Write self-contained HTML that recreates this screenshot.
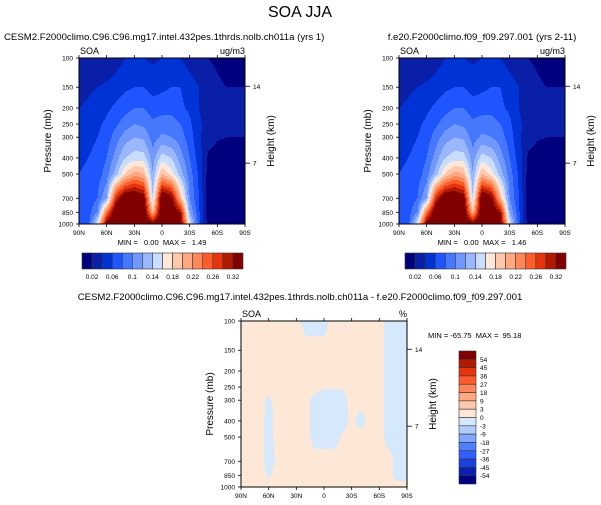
<!DOCTYPE html>
<html><head><meta charset="utf-8">
<style>
html,body{margin:0;padding:0;background:#fff;}
svg{display:block;font-family:"Liberation Sans",Arial,sans-serif;}
.pre{white-space:pre;}
</style></head>
<body>
<svg id="chart" width="601" height="505" viewBox="0 0 601 505" xmlns="http://www.w3.org/2000/svg">
<text x="300" y="17" font-size="16" text-anchor="middle">SOA JJA</text>
<text x="4" y="40" font-size="9.6">CESM2.F2000climo.C96.C96.mg17.intel.432pes.1thrds.nolb.ch011a (yrs 1)</text>
<text x="482" y="40" font-size="9.6" text-anchor="middle">f.e20.F2000climo.f09_f09.297.001 (yrs 2-11)</text>
<text x="300" y="300" font-size="9.6" text-anchor="middle">CESM2.F2000climo.C96.C96.mg17.intel.432pes.1thrds.nolb.ch011a - f.e20.F2000climo.f09_f09.297.001</text>
<g id="panels"></g>
</svg>
<script>
// ---- data ----
const pressureLevels = [100,150,200,250,300,400,500,700,850,1000];
const latLabels = ["90N","60N","30N","0","30S","60S","90S"];
const pTicks = [100,150,200,250,300,400,500,700,850,1000];
const heightTicks = ["14","7"];
const heightTickP = [148,430];
// SOA field (units of 0.02 ug/m3), columns 90N..90S every 10 deg
const soaField = [
[1,1,1,1.2,1.5,2,2,2,1.8,2,2,2,1.5,1.2,1,0.8,0.5,0.5,0.5],
[1.5,1.8,2,2.2,2.5,2.8,3,3,2.6,2.8,3,3,2.5,2,1.5,1.2,1,1,1],
[2,2.2,2.5,2.8,3.2,3.6,4,4,3.5,3.6,3.6,3.2,2.8,2,1.6,1.3,1.2,1.2,1.2],
[2.3,2.5,2.8,3.2,3.8,4.5,5,4.8,4.2,4.5,4.5,4,3.2,2.2,1.6,1.4,1.3,1.3,1.3],
[2.5,2.7,3,3.5,4.5,5.5,6,5.8,4.5,5.2,5,4.5,3.5,2.2,1.4,1.1,1,1,1],
[2.8,3,3.3,4,5.5,7,7.5,7.5,5.5,7.5,7,5.5,4,2.5,0.8,0.6,0.5,0.5,0.5],
[3,3.2,3.5,4.5,6.5,9,10.5,10,6,10,8.5,6.5,4.5,2.8,0.6,0.5,0.5,0.5,0.5],
[3,3.3,4,6,14,17,17,16,7,17,16,10,5,3,0.5,0.5,0.5,0.5,0.5],
[3,3.5,5,12,17,17,17,17,10,17,17,15,6,3.2,0.5,0.5,0.5,0.5,0.5],
[3,3.5,8,16,17,17,17,17,16,17,17,16,8,3.5,0.5,0.5,0.5,0.5,0.5]
];
// percent difference sign field (relative)
const diffField = [
[1,1,1,1,1,1,1,-1,-1,-1,1,1,1,1,1,1,-1,-1,-1],
[1,1,1,1,1,1,1,1,1,1,1,1,1,1,1,1,-1,-1,-1],
[1,1,1,1,1,1,1,1,1,1,1,1,1,1,1,1,-1,-1,-1],
[1,1,1,1,1,1,1,1,1,0.2,0.2,0.2,1,1,1,1,-1,-1,-1],
[1,1,1,-0.5,1,1,1,1,-1,-1,-1,-1,1,1,1,1,-1,-1,-1],
[1,1,1,-1,1,1,1,1,-1,-1,-1,-1,0.5,-1,1,1,-1,-1,-1],
[1,1,1,-1,1,1,1,1,-1,-1,-1,0.3,1,1,1,1,-1,-1,-1],
[1,1,1,-1,0.5,1,1,1,1,1,1,1,1,1,1,1,1,-1,-1],
[1,1,1,-0.3,1,1,1,1,1,1,1,1,1,1,1,1,1,-1,-1],
[1,1,1,1,1,1,1,1,1,1,1,1,1,1,1,1,1,1,1]
];
const soaLevels = ["0.02","0.06","0.1","0.14","0.18","0.22","0.26","0.32"];
const diffLevels = ["54","45","36","27","18","9","3","0","-3","-9","-18","-27","-36","-45","-54"];
const soaColors = ["#00007f","#0a1fa8","#0033d6","#1f55ff","#4577ff","#7098ff","#9ab8ff","#c8ddff","#ffe8da","#ffc8ad","#ffa882","#ff8656","#ff5c2c","#e6340c","#b21a00","#800000"];
const diffColors = ["#800000","#b21a00","#e6340c","#ff5c2c","#ff8656","#ffa882","#ffc8ad","#fde8d8","#d6e8fc","#b0ccff","#80a6ff","#5080ff","#2f60ff","#1a40e0","#0a20b0","#00007f"];

const NS="http://www.w3.org/2000/svg";
const root=document.getElementById('panels');
function mk(tag,attrs,parent){const e=document.createElementNS(NS,tag);for(const k in attrs)e.setAttribute(k,attrs[k]);(parent||root).appendChild(e);return e;}
function yOf(p,y0,h){return y0+h*Math.log10(p/100);}
function sample(field,fx,p){
  const lp=Math.log10(p);let i=0;
  while(i<pressureLevels.length-2&&Math.log10(pressureLevels[i+1])<lp)i++;
  const a=Math.log10(pressureLevels[i]),b=Math.log10(pressureLevels[i+1]);
  const t=Math.min(1,Math.max(0,(lp-a)/(b-a)));
  const c=fx*(field[0].length-1);let j=Math.min(field[0].length-2,Math.floor(c));const s=c-j;
  const v0=field[i][j]*(1-s)+field[i][j+1]*s, v1=field[i+1][j]*(1-s)+field[i+1][j+1]*s;
  return v0*(1-t)+v1*t;
}
function panel(name,x0,y0,w,h,field,colorFn,unit,hTitle,mm,mmX,mmY,mmAnchor){
  const g=mk('g',{});
  
  
  for(let py=0;py<h;py++){
    const p=100*Math.pow(10,(py+0.5)/h);
    let start=0,cur=null;
    for(let px=0;px<=w;px++){
      const col=px<w?colorFn(sample(field,(px+0.5)/w,p)):null;
      if(col!==cur){
        if(cur!==null){const r=mk('rect',{x:x0+start,y:y0+py,width:px-start,height:1.05,fill:cur},g);
          
          }
        cur=col;start=px;
      }
    }
  }
  const fr=mk('rect',{x:x0,y:y0,width:w,height:h,fill:'none',stroke:'#000','stroke-width':1},g);
  
  
  pTicks.forEach(p=>{const y=yOf(p,y0,h);
    mk('line',{x1:x0-3,x2:x0,y1:y,y2:y,stroke:'#000','stroke-width':0.8},g);
    const t=mk('text',{x:x0-6,y:y+2.5,'font-size':6.5,'text-anchor':'end'},g);t.textContent=p;
    
    });
  latLabels.forEach((l,i)=>{const x=x0+w*i/(latLabels.length-1);
    mk('line',{x1:x,x2:x,y1:y0+h,y2:y0+h+3,stroke:'#000','stroke-width':0.8},g);
    mk('line',{x1:x,x2:x,y1:y0,y2:y0-3,stroke:'#000','stroke-width':0.8},g);
    const t=mk('text',{x:x,y:y0+h+11,'font-size':6.5,'text-anchor':'middle'},g);t.textContent=l;
    
    });
  heightTicks.forEach((l,i)=>{const y=yOf(heightTickP[i],y0,h);
    mk('line',{x1:x0+w,x2:x0+w+5,y1:y,y2:y,stroke:'#000','stroke-width':0.8},g);
    const t=mk('text',{x:x0+w+8,y:y+2.5,'font-size':6.5},g);t.textContent=l;
    
    });
  const yt=mk('text',{x:0,y:0,'font-size':10,'text-anchor':'middle',transform:`translate(${x0-28},${y0+h/2}) rotate(-90)`},g);yt.textContent='Pressure (mb)';
  
  
  if(hTitle){const ht=mk('text',{x:0,y:0,'font-size':10,'text-anchor':'middle',transform:`translate(${x0+w+29},${y0+h/2}) rotate(-90)`},g);ht.textContent='Height (km)';
    
    }
  const s=mk('text',{x:x0+1,y:y0-4,'font-size':9},g);s.textContent='SOA';
  
  
  const u=mk('text',{x:x0+w,y:y0-4,'font-size':9,'text-anchor':'end'},g);u.textContent=unit;
  
  
  const m=mk('text',{x:mmX,y:mmY,'font-size':7.5,'text-anchor':mmAnchor,'class':'pre'},g);m.textContent=mm;
  
  
}
const soaColor=v=>soaColors[Math.max(0,Math.min(15,Math.floor(v)))];
const diffColor=v=>v<0?diffColors[8]:diffColors[7];
panel('left-panel',79,58,166,166,soaField,soaColor,'ug/m3',true,'MIN =   0.00  MAX =   1.49',162,245,'middle');
panel('right-panel',399,58,166,166,soaField,soaColor,'ug/m3',true,'MIN =   0.00  MAX =   1.46',482,245,'middle');
panel('diff-panel',241,321,166,166,diffField,diffColor,'%',true,'MIN = -65.75  MAX =  95.18',428,338,'start');

function hbar(name,x0,y0){
  const g=mk('g',{});
  
  
  const bw=161/soaColors.length;
  soaColors.forEach((c,i)=>{const r=mk('rect',{x:x0+i*bw,y:y0,width:bw,height:16,fill:c,stroke:'#333','stroke-width':0.6},g);
    
    });
  soaLevels.forEach((l,i)=>{const t=mk('text',{x:x0+(2*i+1)*bw,y:y0+26,'font-size':6.5,'text-anchor':'middle'},g);t.textContent=l;
    
    });
}
hbar('left-colorbar',82,253);
hbar('right-colorbar',405,253);
(function(){
  const g=mk('g',{});
  
  
  const x0=459,y0=351,bh=133/diffColors.length;
  diffColors.forEach((c,i)=>{const r=mk('rect',{x:x0,y:y0+i*bh,width:17,height:bh,fill:c,stroke:'#333','stroke-width':0.6},g);
    
    });
  diffLevels.forEach((l,i)=>{const t=mk('text',{x:x0+21,y:y0+(i+1)*bh+2.5,'font-size':6.5},g);t.textContent=l;
    
    });
})();
</script>
</body></html>
